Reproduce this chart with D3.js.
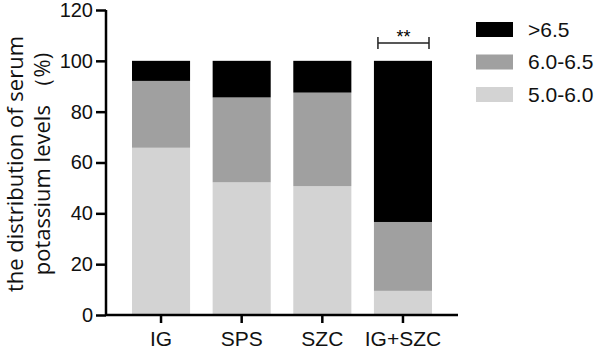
<html>
<head>
<style>
  body { margin: 0; background: #fff; }
  .tick text { font-family: "Liberation Sans", Arial, sans-serif; }
</style>
</head>
<body>
<script src="https://d3js.org/d3.v7.min.js"></script>
<script>
// groups and stacked shares (%)
var groups = ["IG", "SPS", "SZC", "IG+SZC"];
var low = [65.8, 52.2, 50.7, 9.5];     // 5.0-6.0
var mid = [26.3, 33.4, 36.8, 27.1];    // 6.0-6.5
var high = [7.9, 14.4, 12.5, 63.4];    // >6.5
var levelKeys = ["low", "mid", "high"];
var levelLabels = [">6.5", "6.0-6.5", "5.0-6.0"];
var levelColors = {low: "#d3d3d3", mid: "#a0a0a0", high: "#000000"};
var yTicks = [0, 20, 40, 60, 80, 100, 120];

var width = 597, height = 349;
var svg = d3.select("body").append("svg")
  .attr("width", width).attr("height", height);

var rows = groups.map(function(g, i) {
  return {group: g, low: low[i], mid: mid[i], high: high[i]};
});
var series = d3.stack().keys(levelKeys)(rows);

var x = d3.scaleBand().domain(groups).range([132, 432]).paddingInner(0.28).paddingOuter(0);
var y = d3.scaleLinear().domain([0, 120]).range([315, 10]);

// bars
svg.append("g").selectAll("g").data(series).enter().append("g")
  .attr("fill", function(s) { return levelColors[s.key]; })
  .selectAll("rect").data(function(s) { return s; }).enter().append("rect")
  .attr("x", function(d) { return x(d.data.group); })
  .attr("width", x.bandwidth())
  .attr("y", function(d) { return y(d[1]); })
  .attr("height", function(d) { return y(d[0]) - y(d[1]); });

// y axis
var yAxis = svg.append("g").attr("transform", "translate(106,0)")
  .call(d3.axisLeft(y).tickValues(yTicks).tickSize(10).tickPadding(3));
yAxis.select(".domain").attr("stroke", "#000").attr("stroke-width", 2.5)
  .attr("d", "M0," + y(120) + "V" + y(0));
yAxis.selectAll(".tick line").attr("stroke-width", 2.5);
yAxis.selectAll(".tick text").style("font-size", "20px").attr("fill", "#111");

// x axis
var xAxis = svg.append("g").attr("transform", "translate(0," + y(0) + ")")
  .call(d3.axisBottom(x).tickSize(8).tickPadding(8));
xAxis.select(".domain").attr("stroke-width", 2.5)
  .attr("d", "M106,0H458");
xAxis.selectAll(".tick line").attr("stroke-width", 2.5);
xAxis.selectAll(".tick text").style("font-size", "21px").attr("fill", "#111");

// y title
var title = svg.append("text")
  .attr("transform", "translate(23,164) rotate(-90)")
  .attr("text-anchor", "middle")
  .style("font-family", "'Open Sans', sans-serif")
  .style("font-size", "22px")
  .attr("fill", "#111");
title.append("tspan").attr("x", 0).attr("y", 0).text("the distribution of serum");
title.append("tspan").attr("x", 0).attr("y", 27).text("potassium levels \uFF08%)");

// significance bracket over IG+SZC
var bx0 = x("IG+SZC") + 4, bx1 = x("IG+SZC") + x.bandwidth() - 3;
svg.append("path")
  .attr("d", "M" + bx0 + ",43H" + bx1 + "M" + bx0 + ",37V49M" + bx1 + ",37V49")
  .attr("stroke", "#222").attr("stroke-width", 1.5).attr("fill", "none");
svg.append("text")
  .attr("x", (bx0 + bx1) / 2).attr("y", 43)
  .attr("text-anchor", "middle")
  .style("font-family", "'Liberation Sans', Arial, sans-serif")
  .style("font-size", "18px")
  .text("**");

// legend
var legend = svg.append("g").selectAll("g").data(["high", "mid", "low"]).enter().append("g")
  .attr("transform", function(d, i) { return "translate(476," + (22 + i * 32.5) + ")"; });
legend.append("rect").attr("width", 37).attr("height", 15)
  .attr("fill", function(d) { return levelColors[d]; });
legend.append("text").attr("x", 52).attr("y", 14.5)
  .style("font-family", "'Liberation Sans', Arial, sans-serif")
  .style("font-size", "21px").attr("fill", "#111")
  .text(function(d, i) { return levelLabels[i]; });
</script>
</body>
</html>
